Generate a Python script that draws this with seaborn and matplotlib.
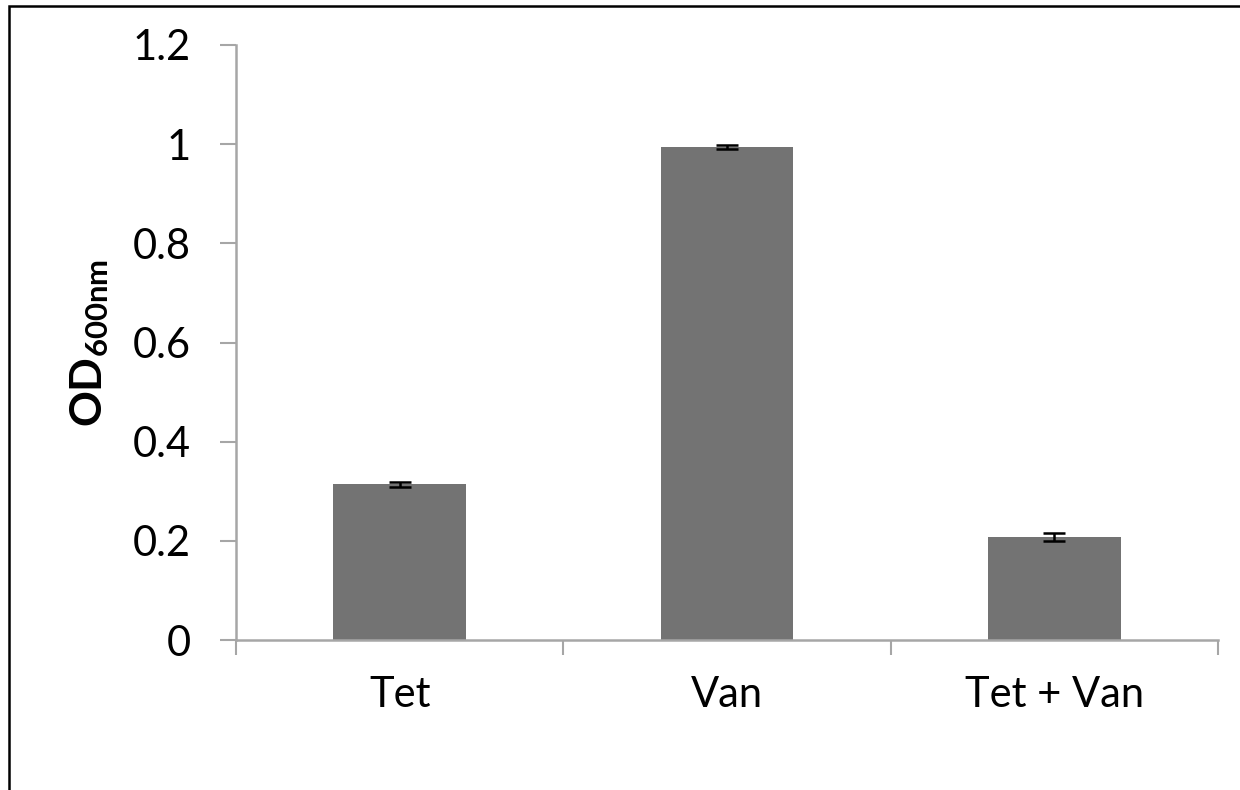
import matplotlib
matplotlib.use("Agg")
import matplotlib.pyplot as plt
from matplotlib.patches import Rectangle
from matplotlib.ticker import FixedLocator, NullFormatter
import seaborn as sns
import pandas as pd

# Optical density after treatment
treatments = ["Tet", "Van", "Tet + Van"]
od600 = [0.314, 0.994, 0.208]
od600_err = [0.005, 0.004, 0.008]
y_ticks = [0, 0.2, 0.4, 0.6, 0.8, 1.0, 1.2]
y_tick_labels = ["0", "0.2", "0.4", "0.6", "0.8", "1", "1.2"]

sns.set_theme(style="white")
plt.rcParams["font.family"] = ["Lato", "DejaVu Sans"]
plt.rcParams["mathtext.fontset"] = "custom"
plt.rcParams["mathtext.rm"] = "Lato"
plt.rcParams["mathtext.bf"] = "Lato:bold"

df = pd.DataFrame({"treatment": treatments, "od": od600})

fig = plt.figure(figsize=(12.4, 7.9), dpi=100)
ax = fig.add_axes([236 / 1240, 1 - 640 / 790, (1218 - 236) / 1240, (640 - 45) / 790])

bar_color = "#737373"
axis_color = "#a6a6a6"

sns.barplot(data=df, x="treatment", y="od", color=bar_color, width=0.405,
            errorbar=None, saturation=1, ax=ax, edgecolor="none")
ax.errorbar(range(len(treatments)), od600, yerr=od600_err, fmt="none",
            ecolor="black", elinewidth=1.8, capsize=8, capthick=1.8)

ax.set_xlim(-0.5, len(treatments) - 0.5)
ax.set_ylim(0, 1.2)
ax.set_yticks(y_ticks)
ax.set_yticklabels(y_tick_labels)

# category labels on minor ticks, boundary tick marks on major ticks
ax.xaxis.set_minor_locator(FixedLocator(range(len(treatments))))
ax.set_xticks([i - 0.5 for i in range(len(treatments) + 1)])
ax.xaxis.set_major_formatter(NullFormatter())
ax.set_xticklabels(treatments, minor=True)
ax.tick_params(axis="x", which="major", direction="out", length=11, width=1.5,
               color=axis_color, bottom=True)
ax.tick_params(axis="x", which="minor", length=0, pad=26, labelsize=30,
               labelcolor="black", bottom=True)
ax.tick_params(axis="y", direction="out", length=11.5, width=1.5,
               color=axis_color, left=True, pad=21, labelsize=30,
               labelcolor="black")

for side in ("top", "right"):
    ax.spines[side].set_visible(False)
for side in ("left", "bottom"):
    ax.spines[side].set_color(axis_color)
    ax.spines[side].set_linewidth(1.8)

ax.set_xlabel("")
ax.set_ylabel(r"$\mathbf{OD_{600nm}}$", fontsize=32, labelpad=16, color="black")

# outer chart frame
fig.add_artist(Rectangle((9 / 1240, -0.1), 2.0, 1 - 6 / 790 + 0.1,
                         transform=fig.transFigure, fill=False,
                         edgecolor="black", linewidth=1.8, clip_on=False))

fig.savefig("out.png", dpi=100, facecolor="white")
